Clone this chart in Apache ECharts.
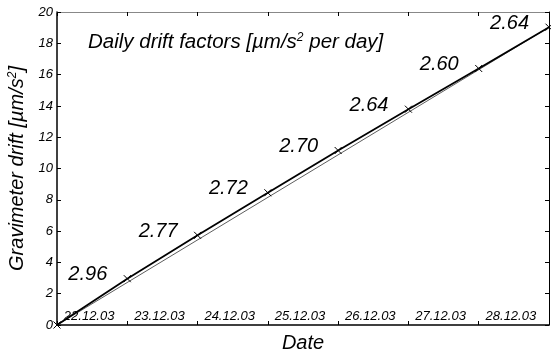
<!DOCTYPE html>
<html>
<head>
<meta charset="utf-8">
<script src="https://cdn.jsdelivr.net/npm/echarts@6/dist/echarts.min.js"></script>
<style>
  html, body { margin: 0; padding: 0; background: #fff; }
  #main { width: 551px; height: 356px; }
</style>
</head>
<body>
<div id="main"></div>
<script>
var chartDom = document.getElementById('main');
var myChart = echarts.init(chartDom);
var option;

// cumulative drift at the start of each day [µm/s²]
const days = [0, 1, 2, 3, 4, 5, 6, 7];
const drift = [0, 2.96, 5.73, 8.45, 11.15, 13.79, 16.39, 19.03];
// daily drift factor of each day
const factors = [2.96, 2.77, 2.72, 2.70, 2.64, 2.60, 2.64];
const dates = ['22.12.03', '23.12.03', '24.12.03', '25.12.03', '26.12.03', '27.12.03', '28.12.03'];
// straight line from first to last reading
const fitX = [0, 7];
const fitY = [0, 19.03];

const font = 'Liberation Sans, Arial, sans-serif';
const supStyle = { fontSize: 12, fontStyle: 'italic', fontFamily: font, verticalAlign: 'top', padding: [0, 0, 9, 0] };

const driftData = days.map((d, i) => ({
  value: [d, drift[i]],
  label: i > 0 ? { show: true, formatter: factors[i - 1].toFixed(2) } : { show: false }
}));

option = {
  animation: false,
  backgroundColor: '#fff',
  title: {
    text: 'Daily drift factors [µm/s{sup|2} per day]',
    left: 88,
    top: 32,
    padding: 0,
    textStyle: {
      fontFamily: font,
      fontStyle: 'italic',
      fontWeight: 'normal',
      fontSize: 20.5,
      color: '#000',
      rich: { sup: supStyle }
    }
  },
  grid: { left: 57, right: 2, top: 12, bottom: 31, outerBoundsMode: 'none' },
  xAxis: [
    {
      type: 'value', min: 0, max: 7, interval: 1,
      position: 'bottom',
      name: 'Date', nameLocation: 'middle', nameGap: 8,
      nameTextStyle: { fontFamily: font, fontStyle: 'italic', fontSize: 20, color: '#000' },
      axisLine: { show: true, lineStyle: { color: '#000', width: 1.5 } },
      axisTick: { show: true, inside: true, length: 4, lineStyle: { color: '#000' } },
      axisLabel: { show: false },
      splitLine: { show: false }
    },
    {
      type: 'value', min: 0, max: 7, interval: 1,
      position: 'top',
      axisLine: { show: true, onZero: false, lineStyle: { color: '#888', width: 1 } },
      axisTick: { show: true, inside: true, length: 4, lineStyle: { color: '#000' } },
      axisLabel: { show: false },
      splitLine: { show: false }
    },
    {
      type: 'category', data: dates, boundaryGap: true,
      position: 'bottom',
      axisLine: { show: false },
      axisTick: { show: false },
      axisLabel: {
        inside: true, margin: 2, padding: [0, 6, 0, 0],
        fontFamily: font, fontStyle: 'italic', fontSize: 13, color: '#000'
      },
      splitLine: { show: false }
    }
  ],
  yAxis: [
    {
      type: 'value', min: 0, max: 20, interval: 2,
      position: 'left',
      name: 'Gravimeter drift [µm/s{sup|2}]', nameLocation: 'middle', nameGap: 16,
      nameTextStyle: {
        fontFamily: font, fontStyle: 'italic', fontSize: 20, color: '#000',
        rich: { sup: supStyle }
      },
      axisLine: { show: true, lineStyle: { color: '#000', width: 1.5 } },
      axisTick: { show: true, inside: true, length: 4, lineStyle: { color: '#000' } },
      axisLabel: { margin: 4, fontFamily: font, fontStyle: 'italic', fontSize: 13, color: '#000' },
      splitLine: { show: false }
    },
    {
      type: 'value', min: 0, max: 20, interval: 2,
      position: 'right',
      axisLine: { show: true, onZero: false, lineStyle: { color: '#000', width: 1 } },
      axisTick: { show: true, inside: true, length: 4, lineStyle: { color: '#000' } },
      axisLabel: { show: false },
      splitLine: { show: false }
    }
  ],
  series: [
    {
      name: 'fit',
      type: 'line',
      data: fitX.map((x, i) => [x, fitY[i]]),
      showSymbol: false,
      symbol: 'none',
      lineStyle: { color: '#333', width: 0.8 },
      z: 2
    },
    {
      name: 'drift',
      type: 'line',
      data: driftData,
      symbol: 'path://M0,0L10,10M10,0L0,10',
      symbolSize: 7,
      itemStyle: { color: 'none', borderColor: '#000', borderWidth: 1 },
      lineStyle: { color: '#000', width: 1.8 },
      label: {
        position: 'left',
        distance: 14,
        offset: [0, -4],
        fontFamily: font,
        fontStyle: 'italic',
        fontSize: 20,
        color: '#000'
      },
      z: 3
    }
  ]
};

option && myChart.setOption(option);
</script>
</body>
</html>
